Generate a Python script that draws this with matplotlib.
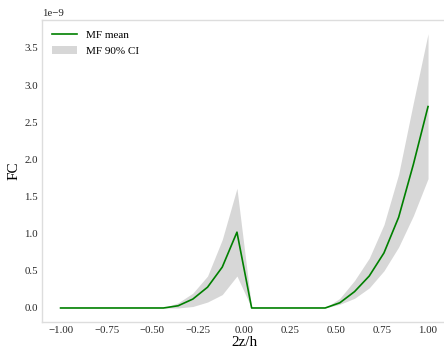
import numpy as np
import matplotlib
matplotlib.use('Agg')
import matplotlib.pyplot as plt

# положение по высоте, 26 точек
z = np.linspace(-1, 1, 26)

# среднее и 90% интервал (в единицах 1e-9)
mf_mean = [0, 0, 0, 0, 0, 0, 0, 0, 0.03, 0.12, 0.28, 0.55, 1.02,
           0, 0, 0, 0, 0, 0, 0.07, 0.22, 0.43, 0.74, 1.22, 1.93, 2.71]
mf_low = [0, 0, 0, 0, 0, 0, 0, 0, 0.0, 0.02, 0.08, 0.18, 0.43,
          0, 0, 0, 0, 0, 0, 0.05, 0.13, 0.27, 0.50, 0.82, 1.24, 1.74]
mf_high = [0, 0, 0, 0, 0, 0, 0, 0, 0.07, 0.20, 0.43, 0.92, 1.61,
           0, 0, 0, 0, 0, 0, 0.13, 0.37, 0.67, 1.12, 1.80, 2.76, 3.69]

scale = 1e-9
mf_mean = np.array(mf_mean) * scale
mf_low = np.array(mf_low) * scale
mf_high = np.array(mf_high) * scale

plt.rcParams['font.family'] = ['Liberation Serif', 'DejaVu Serif']

fig = plt.figure(figsize=(4.44, 3.52), dpi=100)
ax = fig.add_axes([42.2/444, 1 - 321.7/352, 404.2/444, 301.7/352])

ax.plot(z, mf_mean, color='green', lw=1.2, label='MF mean')
ax.fill_between(z, mf_low, mf_high, color='lightgray', alpha=0.9, lw=0, label='MF 90% CI')

for s in ['left', 'top', 'bottom', 'right']:
    ax.spines[s].set_color('#dddddd')
    ax.spines[s].set_linewidth(1.0)

ax.tick_params(length=0, labelsize=7.8, labelcolor='#262626', pad=3)
ax.yaxis.get_offset_text().set_fontsize(7.8)
ax.yaxis.get_offset_text().set_color('#262626')
ax.set_xticks([-1.0, -0.75, -0.5, -0.25, 0.0, 0.25, 0.5, 0.75, 1.0])

ax.set_xlabel('2z/h', fontsize=11, labelpad=1)
ax.set_ylabel('FC', fontsize=11, labelpad=3)

ax.legend(loc='upper left', frameon=False, fontsize=8, handlelength=2.2,
          labelspacing=0.6)

fig.savefig('out.png', dpi=100)
